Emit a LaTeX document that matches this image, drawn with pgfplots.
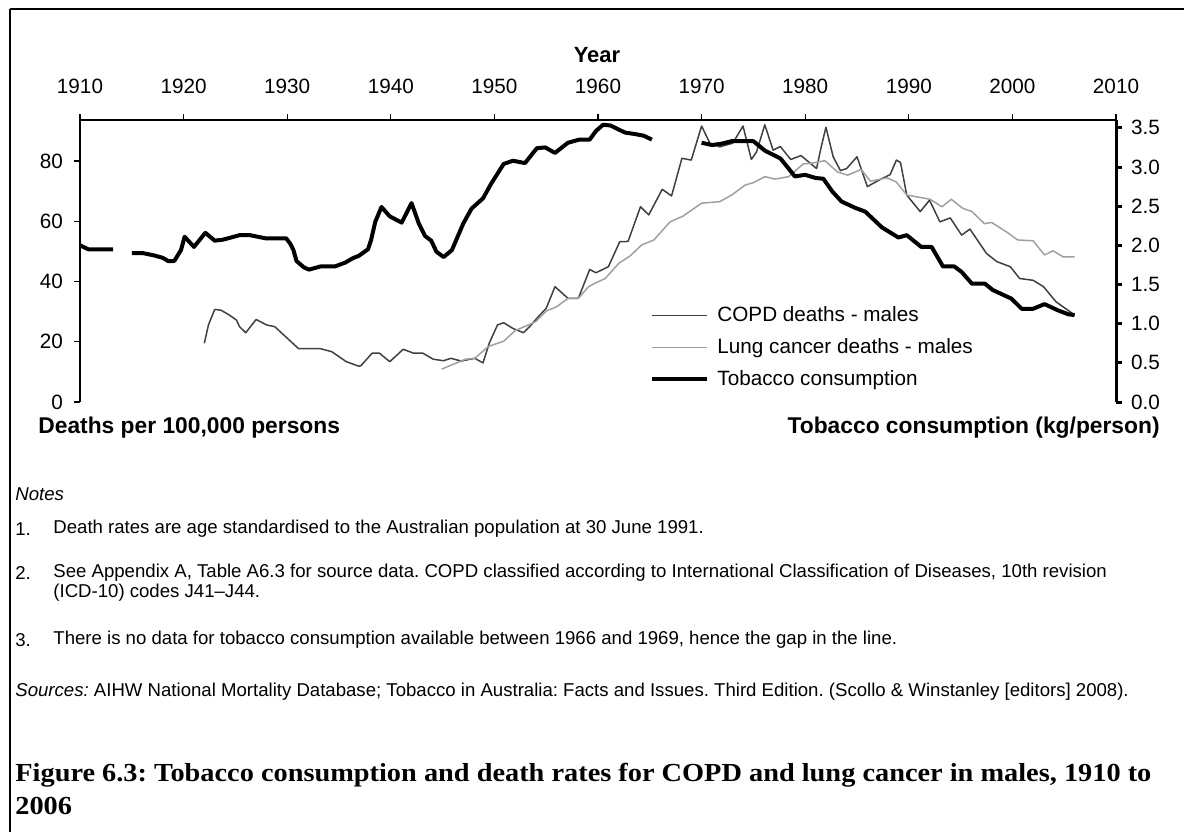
\documentclass[border=0pt]{standalone}
\usepackage{pgfplots}
\pgfplotsset{compat=1.18}
\usepackage{fontspec}
\setmainfont{Liberation Sans}
\newfontfamily\titlefont[FakeStretch=1.09]{Liberation Serif}
\definecolor{copd}{RGB}{64,64,64}
\definecolor{lung}{RGB}{160,160,160}
\newcommand{\tfs}{\fontsize{10.35}{12}\selectfont}
\newcommand{\nfs}{\fontsize{9.3}{11}\selectfont}
\frenchspacing
\begin{document}
\frenchspacing
\begin{tikzpicture}
\path[use as bounding box] (0pt,0pt) rectangle (592pt,-416pt);
\draw[line width=1pt] (5pt,-4.5pt) -- (592pt,-4.5pt);
\draw[line width=1pt] (5pt,-4.5pt) -- (5pt,-416pt);
% left axis: deaths
\begin{axis}[
  at={(40pt,-201pt)}, anchor=south west,
  scale only axis, width=518pt, height=141pt,
  xmin=1910, xmax=2010, ymin=0, ymax=93.6,
  axis x line=top, axis y line=left,
  axis line style={-, line width=0.6pt},
  xtick={1910,1920,1930,1940,1950,1960,1970,1980,1990,2000,2010},
  ytick={0,20,40,60,80},
  tick align=outside, major tick length=3pt,
  tick style={line width=0.6pt, black},
  /pgf/number format/1000 sep={},
  /pgf/number format/assume math mode=true,
  ticklabel style={font=\tfs},
  xticklabel style={yshift=6.5pt},
  yticklabel style={xshift=-2pt},
]
\addplot[color=copd, line width=0.75pt, line join=round] coordinates {
(1922.0,19.5) (1922.4,25.6) (1923.0,30.7) (1923.6,30.5) (1924.4,28.9) (1925.1,27.2)
(1925.4,25.0) (1926.0,23.0) (1927.0,27.4) (1928.0,25.6) (1928.8,25.0) (1931.1,17.7)
(1933.2,17.7) (1934.3,16.7) (1935.7,13.4) (1936.9,11.9) (1937.1,12.0) (1938.2,16.2)
(1938.9,16.2) (1939.9,13.4) (1941.2,17.5) (1942.2,16.2) (1943.1,16.2) (1944.1,14.2)
(1945.1,13.7) (1945.8,14.5) (1946.8,13.6) (1948.1,14.5) (1948.9,13.0) (1949.5,19.5)
(1950.3,25.6) (1950.9,26.3) (1951.8,24.4) (1952.8,23.0) (1953.4,25.0) (1954.1,27.8)
(1955.0,31.1) (1955.85,38.3) (1957.1,34.4) (1958.1,34.4) (1959.2,44.0) (1959.8,42.9)
(1961.0,44.9) (1962.1,53.2) (1962.9,53.3) (1964.1,64.8) (1964.9,62.1) (1966.2,70.6)
(1967.1,68.4) (1968.1,80.9) (1969.0,80.3) (1970.0,91.6) (1970.8,85.9) (1971.75,84.7)
(1973.0,85.9) (1974.0,91.6) (1974.8,80.5) (1975.3,83.0) (1976.1,92.0) (1976.9,83.6)
(1977.6,84.8) (1978.6,80.5) (1979.6,81.8) (1980.4,79.5) (1981.1,77.5) (1981.5,84.0)
(1982.0,91.2) (1982.7,81.4) (1983.4,76.8) (1984.0,77.5) (1985.0,81.4) (1986.0,71.5)
(1987.2,73.8) (1988.2,75.5) (1988.8,80.3) (1989.2,79.5) (1989.8,68.7) (1991.1,63.2)
(1992.0,67.0) (1993.0,59.8) (1994.0,61.1) (1995.1,55.4) (1995.9,57.4) (1997.5,49.3)
(1998.5,46.6) (1999.8,44.9) (2000.7,41.0) (2002.0,40.4) (2003.0,38.3) (2004.2,33.3)
(2006.0,28.9)
};
\addplot[color=lung, line width=0.75pt, line join=round] coordinates {
(1944.9,10.9) (1947.2,14.2) (1948.1,14.5) (1949.4,18.4) (1950.9,20.2) (1952.0,23.7)
(1953.3,25.6) (1954.0,26.7) (1955.0,30.2) (1956.0,31.6) (1957.1,34.4) (1958.1,34.4)
(1959.1,38.3) (1959.7,39.4) (1960.7,41.0) (1962.0,46.0) (1963.1,48.5) (1964.2,52.1)
(1965.4,53.8) (1966.95,59.8) (1968.2,61.7) (1970.0,66.0) (1971.75,66.5) (1972.9,68.7)
(1974.2,72.0) (1975.0,72.8) (1976.1,74.8) (1977.1,74.0) (1978.4,74.8) (1979.8,79.0)
(1980.8,79.4) (1981.9,80.1) (1983.1,76.4) (1984.1,75.3) (1985.4,77.2) (1986.3,73.3)
(1987.9,74.4) (1988.8,73.0) (1989.8,68.7) (1992.05,67.3) (1993.2,64.8) (1994.1,67.3)
(1995.2,64.3) (1996.1,63.2) (1997.3,59.2) (1998.0,59.6) (1999.5,56.3) (2000.5,53.8)
(2002.0,53.5) (2003.1,48.8) (2003.9,50.2) (2004.9,48.2) (2006.0,48.2)
};
\end{axis}
% right axis: tobacco
\begin{axis}[
  at={(40pt,-201pt)}, anchor=south west,
  scale only axis, width=518pt, height=141pt,
  xmin=1910, xmax=2010, ymin=0, ymax=3.6,
  axis x line=none, axis y line=right,
  axis line style={-, line width=1.5pt},
  xtick=\empty,
  ytick={0,0.5,1,1.5,2,2.5,3,3.5},
  tick align=outside, major tick length=3pt,
  ytick style={line width=1.5pt, black},
  yticklabel style={font=\tfs, xshift=1pt, /pgf/number format/.cd, fixed, fixed zerofill, precision=1},
  /pgf/number format/assume math mode=true,
  unbounded coords=jump,
  legend style={at={(0.5502,0.355)}, anchor=north west, draw=none, fill=none,
    inner sep=0pt, row sep=3pt, column sep=2pt, font=\tfs, cells={anchor=west}},
  legend image code/.code={\draw[#1] (0pt,0pt) -- (27.5pt,0pt);},
]
\addlegendimage{color=copd, line width=0.75pt}
\addlegendentry{COPD deaths - males}
\addlegendimage{color=lung, line width=0.75pt}
\addlegendentry{Lung cancer deaths - males}
\addplot[black, line width=2pt, line join=round] coordinates {
(1910.0,2.00) (1910.8,1.95) (1913.2,1.95) (1914.0,nan)
(1915.0,1.90) (1916.1,1.90) (1917.2,1.87) (1918.0,1.84) (1918.5,1.80) (1919.1,1.80)
(1919.75,1.94) (1920.1,2.11) (1921.0,1.98) (1922.1,2.16) (1923.0,2.06) (1923.7,2.07)
(1924.3,2.09) (1925.4,2.13) (1926.4,2.13) (1927.9,2.09) (1929.9,2.09) (1930.3,2.02)
(1930.6,1.94) (1930.9,1.80) (1931.6,1.72) (1932.1,1.69) (1933.2,1.73) (1934.6,1.73)
(1935.6,1.78) (1936.4,1.84) (1936.9,1.865) (1937.8,1.95) (1938.1,2.07) (1938.5,2.30)
(1939.1,2.49) (1939.9,2.37) (1941.05,2.29) (1942.0,2.54) (1942.7,2.28) (1943.3,2.12)
(1943.9,2.06) (1944.4,1.92) (1945.1,1.85) (1945.9,1.94) (1947.0,2.28) (1947.8,2.47)
(1948.9,2.60) (1949.7,2.79) (1950.9,3.04) (1951.8,3.08) (1952.95,3.05) (1954.1,3.24)
(1954.9,3.25) (1955.85,3.18) (1957.1,3.31) (1958.2,3.35) (1959.2,3.35) (1959.8,3.46)
(1960.5,3.54) (1961.2,3.53) (1962.6,3.44) (1963.6,3.42) (1964.4,3.40) (1965.2,3.35)
(1967.5,nan)
(1970.0,3.31) (1971.0,3.28) (1972.0,3.30) (1972.9,3.33) (1975.0,3.33) (1976.1,3.21)
(1977.6,3.11) (1978.4,2.98) (1979.0,2.88) (1980.0,2.90) (1981.0,2.86) (1981.75,2.85)
(1982.6,2.69) (1983.5,2.56) (1984.8,2.48) (1985.8,2.43) (1987.4,2.23) (1989.0,2.10)
(1989.8,2.13) (1991.2,1.98) (1992.2,1.98) (1993.3,1.73) (1994.4,1.73) (1995.1,1.66)
(1996.1,1.51) (1997.35,1.51) (1998.1,1.43) (1999.9,1.32) (2000.9,1.19) (2002.0,1.19)
(2003.1,1.25) (2004.4,1.17) (2005.4,1.12) (2006.0,1.11)
};
\addlegendentry{Tobacco consumption}
\end{axis}
% titles
\node[font=\fontsize{11}{13}\selectfont\bfseries] at (298.5pt,-27.5pt) {Year};
\node[anchor=west, font=\fontsize{11.4}{13}\selectfont\bfseries, inner sep=0pt] at (19pt,-214pt) {Deaths per 100,000 persons};
\node[anchor=east, font=\fontsize{11.4}{13}\selectfont\bfseries, inner sep=0pt] at (580pt,-214pt) {Tobacco consumption (kg/person)};
% notes
\begin{scope}[every node/.style={anchor=west, inner sep=0pt, font=\nfs\frenchspacing}]
\node at (7.5pt,-247pt) {\itshape Notes};
\node at (7.5pt,-264.5pt) {1.};
\node at (26.5pt,-264.5pt) {Death rates are age standardised to the Australian population at 30 June 1991.};
\node at (7.5pt,-286.5pt) {2.};
\node at (26.5pt,-286.5pt) {See Appendix A, Table A6.3 for source data. COPD classified according to International Classification of Diseases, 10th revision};
\node at (26.5pt,-296.5pt) {(ICD-10) codes J41--J44.};
\node at (7.5pt,-320pt) {3.};
\node at (26.5pt,-320pt) {There is no data for tobacco consumption available between 1966 and 1969, hence the gap in the line.};
\node at (7.5pt,-346pt) {\textit{Sources:} AIHW National Mortality Database; Tobacco in Australia: Facts and Issues. Third Edition. (Scollo \& Winstanley [editors] 2008).};
\end{scope}
\node[anchor=west, inner sep=0pt, font=\titlefont\fontsize{13}{15}\selectfont\bfseries\frenchspacing] at (7.5pt,-387.5pt) {Figure 6.3: Tobacco consumption and death rates for COPD and lung cancer in males, 1910 to};
\node[anchor=west, inner sep=0pt, font=\titlefont\fontsize{13}{15}\selectfont\bfseries] at (7.5pt,-403pt) {2006};
\end{tikzpicture}
\end{document}
